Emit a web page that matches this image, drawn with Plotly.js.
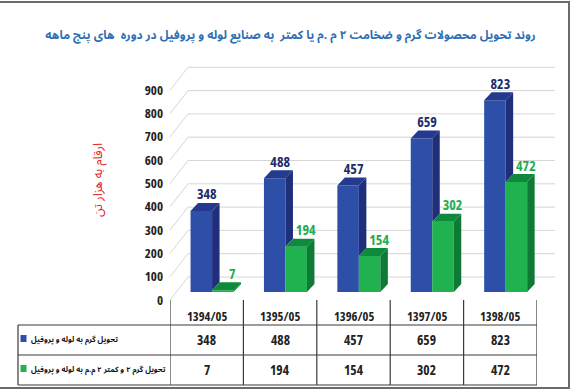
<!DOCTYPE html>
<html>
<head>
<meta charset="utf-8">
<script src="https://cdn.plot.ly/plotly-3.0.1.min.js"></script>
<style>
html,body{margin:0;padding:0;background:#fff;}
#wrap{position:relative;width:575px;height:391px;overflow:hidden;}
#chart{width:575px;height:391px;}
#frame{position:absolute;left:-6px;top:1px;width:572px;height:384px;border:2px solid #6b6b6b;pointer-events:none;}
text[style*="Open Sans"]{font-stretch:condensed !important;}
text[style*="Noto Sans Arabic"]{font-stretch:semi-condensed !important;}
</style>
</head>
<body>
<div id="wrap"><div id="chart"></div><div id="frame"></div></div>
<script>
// ---- data ----
const categories = ['1394/05', '1395/05', '1396/05', '1397/05', '1398/05'];
const seriesNames = ['تحویل گرم به لوله و پروفیل', 'تحویل گرم ۲ و کمتر ۲ م.م به لوله و پروفیل'];
const hotDelivery = [348, 488, 457, 659, 823];
const thinDelivery = [7, 194, 154, 302, 472];
const yTickValues = [0, 100, 200, 300, 400, 500, 600, 700, 800, 900];
const chartTitle = 'روند تحویل محصولات گرم و ضخامت ۲ م .م یا کمتر  به صنایع لوله و پروفیل در دوره  های پنج ماهه';
const yTitle = 'ارقام به هزار تن';

// ---- geometry / style ----
const W = 575, H = 391;
const X_LEFT = 170, X_RIGHT = 537;           // px, table columns
const PX_X = (X_RIGHT - X_LEFT) / categories.length;
const PX_Y = 0.233;                            // px per unit
const BASE_PX = 292;                           // pixel of value 0 for bars
const Y_MIN = -40, Y_MAX = 1000;
const yPix = v => BASE_PX - v * PX_Y;
const py = p => 1 - p / H;                     // pixel -> paper y
const px = p => p / W;                         // pixel -> paper x
const BAR_W = 0.293;
const OFF = [-0.0735, -0.0735 + BAR_W];
const DX = 7.5 / PX_X, DY = 8 / PX_Y;          // 3D depth in data units
const LABEL_DX = [5.5 / PX_X, 9.5 / PX_X];     // data label horizontal shift
const LABEL_SHIFT = 8 / PX_Y;                  // tick label front edge offset
const BACK_SHIFT = 15 / PX_Y;                  // back wall offset

const numFont = 'Open Sans, sans-serif';
const arFont = 'Noto Sans Arabic, Noto Sans, sans-serif';
const colors = {
  front: ['#2D4FA8', '#1FB24F'],
  side: ['#1F2F7C', '#0E7A35'],
  top: ['#233A8E', '#0D8A3B'],
  label: ['#1E2B6A', '#22AD4C']
};
const series = [hotDelivery, thinDelivery];
const idx = categories.map((c, i) => i);

const traces = [];
series.forEach((vals, s) => {
  traces.push({
    type: 'bar', x: idx, y: vals, width: BAR_W, offset: OFF[s] - BAR_W / 2,
    marker: {color: colors.front[s], line: {width: 0}},
    hoverinfo: 'skip', showlegend: false
  });
  const sx = [], sy = [], tx = [], ty = [];
  vals.forEach((v, i) => {
    const x0 = i + OFF[s] - BAR_W / 2, x1 = i + OFF[s] + BAR_W / 2;
    const lo = s === 0 ? series[1][i] : 0;
    sx.push(x1, x1, x1 + DX, x1 + DX, x1, null);
    sy.push(lo, v, v + DY, lo + DY, lo, null);
    tx.push(x0, x1, x1 + DX, x0 + DX, x0, null);
    ty.push(v, v, v + DY, v + DY, v, null);
  });
  traces.push({type: 'scatter', mode: 'lines', x: sx, y: sy, fill: 'toself', fillcolor: colors.side[s],
    line: {width: 0, color: colors.side[s]}, hoverinfo: 'skip', showlegend: false});
  traces.push({type: 'scatter', mode: 'lines', x: tx, y: ty, fill: 'toself', fillcolor: colors.top[s],
    line: {width: 0, color: colors.top[s]}, hoverinfo: 'skip', showlegend: false});
});
series.forEach((vals, s) => {
  traces.push({
    type: 'scatter', mode: 'text',
    x: idx.map(i => i + OFF[s] + LABEL_DX[s]), y: vals.map(v => v + DY),
    text: vals.map(String), textposition: 'top center',
    textfont: {family: numFont, size: 14, color: colors.label[s], weight: 'bold'},
    hoverinfo: 'skip', showlegend: false, cliponaxis: false
  });
});

const shapes = [];
const gridColor = '#D6D6D6';
yTickValues.forEach(t => {
  shapes.push({type: 'line', layer: 'below', xref: 'paper', yref: 'y',
    x0: px(X_LEFT), x1: px(188), y0: t - LABEL_SHIFT, y1: t + BACK_SHIFT, line: {color: gridColor, width: 1}});
  shapes.push({type: 'line', layer: 'below', xref: 'paper', yref: 'y',
    x0: px(188), x1: px(555), y0: t + BACK_SHIFT, y1: t + BACK_SHIFT, line: {color: gridColor, width: 1}});
});
// table lines
const tLine = {color: '#3a3a3a', width: 1.2};
for (let i = 0; i <= categories.length; i++) {
  shapes.push({type: 'line', xref: 'x', yref: 'paper', x0: i - 0.5, x1: i - 0.5, y0: py(300), y1: py(385), line: tLine});
}
[325, 355, 385].forEach(r => {
  shapes.push({type: 'line', xref: 'paper', yref: 'paper', x0: px(18), x1: px(X_RIGHT), y0: py(r), y1: py(r), line: tLine});
});
shapes.push({type: 'line', xref: 'paper', yref: 'paper', x0: px(18), x1: px(18), y0: py(325), y1: py(385), line: tLine});
// legend keys
const rowY = [340, 370];
rowY.forEach((r, s) => {
  shapes.push({type: 'rect', xref: 'paper', yref: 'paper', x0: px(20.5), x1: px(26.5), y0: py(r - 5), y1: py(r + 2),
    fillcolor: colors.front[s], line: {width: 0}});
});

const annotations = [];
categories.forEach((c, i) => {
  annotations.push({xref: 'x', yref: 'paper', x: i, y: py(316), text: c, showarrow: false,
    xanchor: 'center', yanchor: 'middle', font: {family: numFont, size: 12.5, color: '#222', weight: 'bold'}});
});
series.forEach((vals, s) => {
  annotations.push({xref: 'paper', yref: 'paper', x: px(29), y: py(rowY[s]), text: seriesNames[s], showarrow: false,
    xanchor: 'left', yanchor: 'middle', font: {family: arFont, size: 7.6, color: '#111', weight: 'bold'}});
  vals.forEach((v, i) => {
    annotations.push({xref: 'x', yref: 'paper', x: i, y: py(rowY[s]), text: String(v), showarrow: false,
      xanchor: 'center', yanchor: 'middle', font: {family: numFont, size: 13.5, color: '#222', weight: 'bold'}});
  });
});
annotations.push({xref: 'paper', yref: 'paper', x: px(98), y: py(180), text: yTitle, textangle: -90, showarrow: false,
  xanchor: 'center', yanchor: 'middle', font: {family: arFont, size: 12.5, color: '#E3262E'}});

const layout = {
  width: W, height: H, autosize: false,
  margin: {l: 0, r: 0, t: 0, b: 0, pad: 0},
  paper_bgcolor: '#fff', plot_bgcolor: 'rgba(0,0,0,0)',
  barmode: 'overlay', showlegend: false,
  title: {text: chartTitle, x: px(290.5), xanchor: 'center', y: py(35), yanchor: 'middle',
    font: {family: arFont, size: 11.8, color: '#2E6FB5', weight: 'bold'}},
  xaxis: {domain: [px(X_LEFT), px(X_RIGHT)], range: [-0.5, categories.length - 0.5],
    showgrid: false, zeroline: false, showline: false, showticklabels: false, ticks: '', fixedrange: true},
  yaxis: {domain: [py(yPix(Y_MIN)), py(yPix(Y_MAX))], range: [Y_MIN, Y_MAX],
    showgrid: false, zeroline: false, showline: false, showticklabels: false, ticks: '', fixedrange: true},
  yaxis2: {overlaying: 'y', anchor: 'free', position: px(X_LEFT), side: 'left',
    range: [Y_MIN + LABEL_SHIFT, Y_MAX + LABEL_SHIFT], tickmode: 'array', tickvals: yTickValues,
    ticktext: yTickValues.map(String), showgrid: false, zeroline: false, showline: false, ticks: '',
    ticklabelstandoff: 7,
    tickfont: {family: numFont, size: 13, color: '#222', weight: 'bold'}, fixedrange: true},
  shapes: shapes, annotations: annotations
};
// dummy trace to activate yaxis2
traces.push({type: 'scatter', x: [0], y: [0], yaxis: 'y2', mode: 'markers', marker: {opacity: 0}, hoverinfo: 'skip', showlegend: false});

Plotly.newPlot('chart', traces, layout, {displayModeBar: false, staticPlot: true});
</script>
</body>
</html>
